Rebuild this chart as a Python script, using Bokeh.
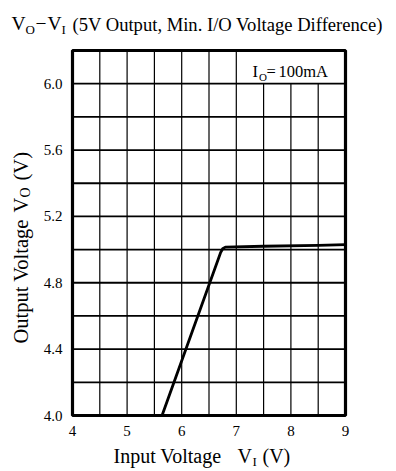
import numpy as np
from bokeh.plotting import figure
from bokeh.models import Label, FixedTicker, Range1d
from bokeh.embed import file_html
from bokeh.resources import INLINE

# ---------------- data ----------------
vin = [5.64, 6.71, 6.75, 6.80, 7.50, 8.50, 9.00]
vout = [4.00, 4.98, 5.005, 5.015, 5.02, 5.025, 5.03]

x_ticks = [4, 5, 6, 7, 8, 9]
y_ticks = [4.0, 4.4, 4.8, 5.2, 5.6, 6.0]
y_tick_labels = ["4.0", "4.4", "4.8", "5.2", "5.6", "6.0"]
x_grid = [4.5, 5.0, 5.5, 6.0, 6.5, 7.0, 7.5, 8.0, 8.5]
y_grid = [4.2, 4.4, 4.6, 4.8, 5.0, 5.2, 5.4, 5.6, 5.8, 6.0]

XMIN, XMAX = 4.0, 9.0
YMIN, YMAX = 4.0, 6.2
INSET_X, INSET_Y = 7.0, 6.0   # condition box occupies x>=7, y>=6

FONT = "Liberation Serif"

# ---------------- layout (pixels) ----------------
W, H = 394, 470
FX0, FX1, FY0, FY1 = 72, 345, 50, 415   # plot box in canvas pixels
SX = (XMAX - XMIN) / (FX1 - FX0)        # data units per pixel
SY = (YMAX - YMIN) / (FY1 - FY0)
BASE_K = 0.34                           # baseline correction (fraction of font size)


def dx(px):
    return XMIN + (px - FX0) * SX


def dy(py):
    return YMIN + (FY1 - py) * SY


p = figure(
    width=W, height=H,
    min_border_left=0, min_border_right=0, min_border_top=0, min_border_bottom=0,
    x_range=Range1d(dx(0), dx(W)), y_range=Range1d(dy(H), dy(0)),
    output_backend="svg", toolbar_location=None,
)
p.title.visible = False
p.background_fill_color = "white"
p.border_fill_color = "white"
p.outline_line_color = None
p.xgrid.visible = False
p.ygrid.visible = False

for ax in (p.xaxis[0], p.yaxis[0]):
    ax.axis_line_color = None
    ax.major_tick_line_color = None
    ax.minor_tick_line_color = None
    ax.major_tick_out = 0
    ax.major_tick_in = 0
    ax.major_label_text_font = FONT
    ax.major_label_text_font_size = "15px"
    ax.major_label_text_color = "black"

p.xaxis.ticker = FixedTicker(ticks=x_ticks)
p.yaxis.ticker = FixedTicker(ticks=y_ticks)
p.yaxis.major_label_overrides = {t: l for t, l in zip(y_ticks, y_tick_labels)}
p.xaxis.fixed_location = YMIN
p.yaxis.fixed_location = XMIN
p.xaxis.major_label_standoff = 10
p.yaxis.major_label_standoff = 10

# grid drawn as segments (omitted inside the condition box)
p.segment(x0=x_grid, y0=[YMIN] * len(x_grid), x1=x_grid,
          y1=[YMAX if x <= INSET_X else INSET_Y for x in x_grid],
          line_color="black", line_width=1.2)
p.segment(x0=[XMIN] * len(y_grid), y0=y_grid, x1=[XMAX] * len(y_grid), y1=y_grid,
          line_color="black", line_width=1.8)

# curve
p.line(vin, vout, line_color="black", line_width=2.8, line_join="round")

# plot box border
p.quad(left=[XMIN], right=[XMAX], bottom=[YMIN], top=[YMAX],
       fill_color=None, line_color="black", line_width=3.2)


def lab(text, px, py, size, rotated=False):
    if rotated:
        px = px - BASE_K * size
    else:
        py = py - BASE_K * size
    p.add_layout(Label(x=dx(px), y=dy(py), text=text, text_font=FONT,
                       text_font_size=f"{size}px", text_color="black",
                       text_align="left", text_baseline="alphabetic",
                       angle=np.pi / 2 if rotated else 0.0))


# title
lab("V", 11, 30, 19.5)
lab("O", 25, 33, 13)
lab("\u2212", 35, 30, 19.5)
lab("V", 47, 30, 19.5)
lab("I", 61, 33, 13)
lab("(5V Output, Min. I/O Voltage Difference)", 72, 30, 18.6)

# condition label
lab("I", 252, 77, 16.5)
lab("O", 258.5, 80, 11)
lab("=", 266, 77, 16.5)
lab("100mA", 278, 77, 16.5)

# x-axis title
lab("Input Voltage", 113, 462, 20)
lab("V", 237, 462, 20)
lab("I", 252, 465, 13)
lab("(V)", 262, 462, 20)

# y-axis title (rotated)
lab("Output Voltage", 27, 343, 20.5, True)
lab("V", 27, 212, 20.5, True)
lab("O", 30, 197, 14, True)
lab("(V)", 27, 180, 20.5, True)

open("out.html", "w").write(file_html(p, INLINE))
